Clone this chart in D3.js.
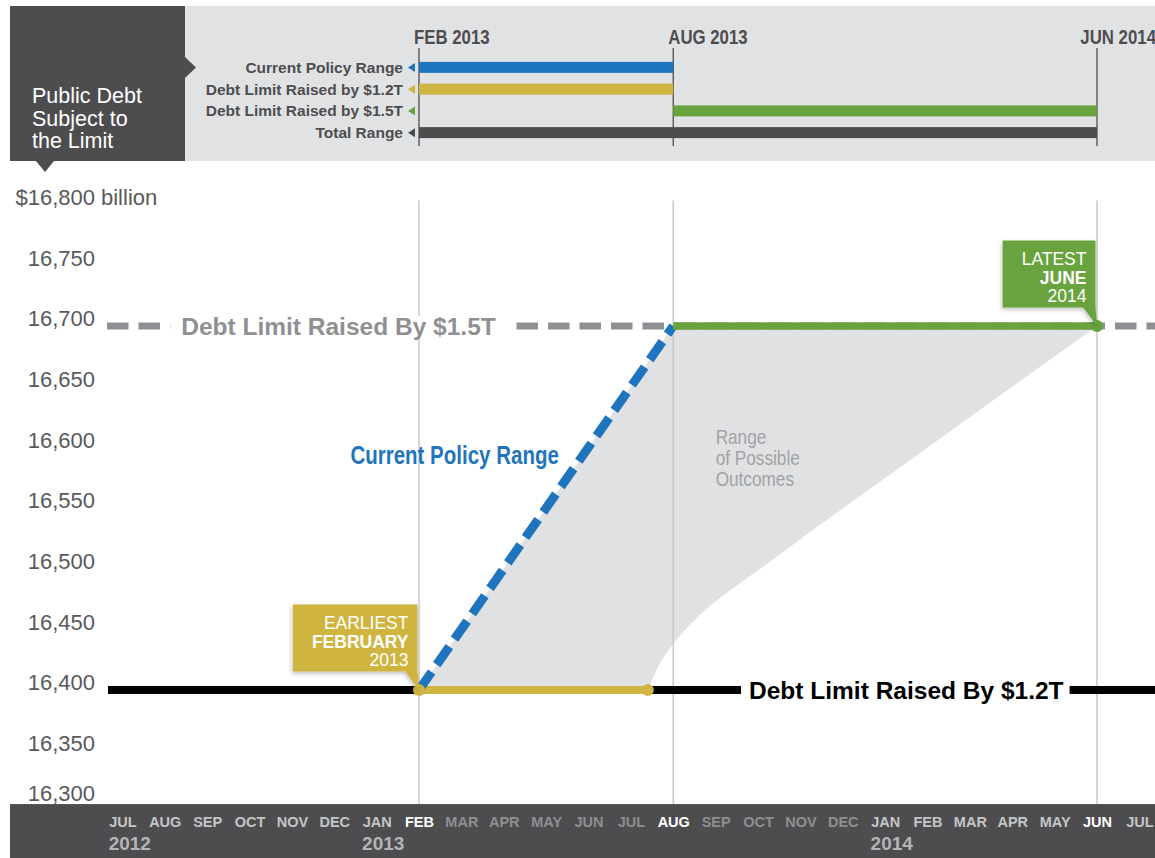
<!DOCTYPE html>
<html>
<head>
<meta charset="utf-8">
<script src="https://cdn.jsdelivr.net/npm/d3@7"></script>
<style>
  body { margin: 0; background: #fff; }
  svg { display: block; font-family: "Liberation Sans", Arial, Helvetica, sans-serif; }
</style>
</head>
<body>
<svg width="1155" height="858"></svg>
<script>
// ---- data ----
const months = ["JUL","AUG","SEP","OCT","NOV","DEC","JAN","FEB","MAR","APR","MAY","JUN",
                "JUL","AUG","SEP","OCT","NOV","DEC","JAN","FEB","MAR","APR","MAY","JUN","JUL"]; // Jul 2012 .. Jul 2014
const years = [{label: "2012", m: 0}, {label: "2013", m: 6}, {label: "2014", m: 18}];
const markers = [{label: "FEB 2013", m: 7}, {label: "AUG 2013", m: 13}, {label: "JUN 2014", m: 23}];
const yTicks = [16300, 16350, 16400, 16450, 16500, 16550, 16600, 16650, 16700, 16750, 16800];

const limit12 = 16394;   // debt limit raised by $1.2T
const limit15 = 16694;   // debt limit raised by $1.5T

const legendRows = [
  {label: "Current Policy Range",       key: "blue",  start: 7,  end: 13},
  {label: "Debt Limit Raised by $1.2T", key: "gold",  start: 7,  end: 13},
  {label: "Debt Limit Raised by $1.5T", key: "green", start: 13, end: 23},
  {label: "Total Range",                key: "dark",  start: 7,  end: 23}
];

const currentPolicy = [{m: 7, v: 16394}, {m: 13, v: 16694}];
const raised12 = [{m: 7, v: 16394}, {m: 12.4, v: 16394}];
const raised15 = [{m: 13, v: 16694}, {m: 23, v: 16694}];
// lower edge of the range of possible outcomes, from Jun 2014 back to mid 2013
const outcomeLower = [{m: 23, v: 16694}, {m: 19.17, v: 16598}, {m: 15.33, v: 16501},
                      {m: 13.63, v: 16456}, {m: 12.81, v: 16423}, {m: 12.4, v: 16394}];

// ---- setup ----
const W = 1155, H = 858;
const colors = {blue: "#1f75bd", gold: "#cfb541", green: "#69a33e", dark: "#4d4d4f"};
const PANEL = "#e1e2e4", DASHGRAY = "#8f9093";

const svg = d3.select("svg");

const x = d3.scaleLinear().domain([7, 23]).range([419, 1097]);
const y = d3.scaleLinear().domain([limit12, limit15]).range([690, 326]);
const plotLeft = 107, plotRight = W;
const bandTop = y(16300);

const defs = svg.append("defs");
defs.append("filter").attr("id", "shadow")
  .attr("x", "-20%").attr("y", "-20%").attr("width", "140%").attr("height", "150%")
  .append("feDropShadow")
  .attr("dx", -1).attr("dy", 2).attr("stdDeviation", 2)
  .attr("flood-color", "#000").attr("flood-opacity", 0.25);

// condensed text helper (horizontal squeeze)
function condensed(parent, txt, px, py, size, weight, fill, anchor) {
  const g = parent.append("g").attr("transform", `translate(${px},${py}) scale(0.82,1)`);
  const t = g.append("text").text(txt)
    .attr("font-size", size).attr("font-weight", weight)
    .attr("fill", fill).attr("text-anchor", anchor || "start");
  return {g, t, width: t.node().getComputedTextLength() * 0.82};
}

// ---- header ----
svg.append("rect").attr("x", 185).attr("y", 6).attr("width", W - 185).attr("height", 155).attr("fill", PANEL);
svg.append("rect").attr("x", 10).attr("y", 6).attr("width", 175).attr("height", 155).attr("fill", colors.dark);
svg.append("path").attr("d", "M185,57 L196,67.5 L185,78 Z").attr("fill", colors.dark);
svg.append("path").attr("d", "M36,161 L45,172 L54,161 Z").attr("fill", colors.dark);

svg.selectAll(".title")
  .data(["Public Debt", "Subject to", "the Limit"])
  .enter().append("text")
  .attr("class", "title")
  .attr("x", 32).attr("y", (d, i) => 103 + i * 22.5)
  .attr("font-size", 21.5).attr("fill", "#fff")
  .text(d => d);

// header grid + labels
svg.selectAll(".hgrid")
  .data(markers)
  .enter().append("line")
  .attr("class", "hgrid")
  .attr("x1", d => x(d.m)).attr("x2", d => x(d.m))
  .attr("y1", 48).attr("y2", 146)
  .attr("stroke", colors.dark).attr("stroke-width", 1.3);

markers.forEach(d => {
  const c = condensed(svg, d.label, 0, 44, 20.5, "bold", colors.dark);
  const sx = Math.min(x(d.m) - 5, W + 1 - c.width);
  c.g.attr("transform", `translate(${sx},44) scale(0.82,1)`);
});

const rowY = d3.scalePoint().domain(legendRows.map(d => d.label)).range([56.5, 143.5]).padding(0.5);

svg.selectAll(".hbar")
  .data(legendRows)
  .enter().append("rect")
  .attr("class", "hbar")
  .attr("x", d => x(d.start))
  .attr("width", d => x(d.end) - x(d.start))
  .attr("y", d => rowY(d.label) - 5.5)
  .attr("height", 11)
  .attr("fill", d => colors[d.key]);

svg.selectAll(".hlabel")
  .data(legendRows)
  .enter().append("text")
  .attr("class", "hlabel")
  .attr("x", 403).attr("y", d => rowY(d.label))
  .attr("dy", "0.35em")
  .attr("text-anchor", "end")
  .attr("font-size", 15.5).attr("font-weight", "bold")
  .attr("fill", colors.dark)
  .text(d => d.label);

svg.selectAll(".hmark")
  .data(legendRows)
  .enter().append("path")
  .attr("class", "hmark")
  .attr("d", d => { const c = rowY(d.label); return `M408,${c} L415,${c - 4.5} L415,${c + 4.5} Z`; })
  .attr("fill", d => colors[d.key]);

// ---- plot ----
// range of possible outcomes
const upperPath = d3.line().x(d => x(d.m)).y(d => y(d.v))([currentPolicy[0], currentPolicy[1], raised15[1]]);
const lowerPath = d3.line().x(d => x(d.m)).y(d => y(d.v)).curve(d3.curveMonotoneY)(outcomeLower);
svg.append("path")
  .attr("d", upperPath + "L" + lowerPath.slice(1) + "Z")
  .attr("fill", "#e0e1e3");

// vertical grid
svg.selectAll(".vgrid")
  .data(markers)
  .enter().append("line")
  .attr("class", "vgrid")
  .attr("x1", d => x(d.m)).attr("x2", d => x(d.m))
  .attr("y1", y(16800) + 3).attr("y2", bandTop)
  .attr("stroke", "#c8c8ca").attr("stroke-width", 1.5);

// $1.5T dashed limit
svg.append("line")
  .attr("x1", plotLeft).attr("x2", plotRight)
  .attr("y1", y(limit15)).attr("y2", y(limit15))
  .attr("stroke", DASHGRAY).attr("stroke-width", 7)
  .attr("stroke-dasharray", "21.5,10");

function limitLabel(txt, m, v, fill, padL, padR) {
  const t = svg.append("text").text(txt)
    .attr("x", x(m)).attr("y", y(v)).attr("dy", "0.36em")
    .attr("text-anchor", "middle")
    .attr("font-size", 24.5).attr("font-weight", "bold")
    .attr("fill", fill);
  const w = t.node().getComputedTextLength();
  svg.insert("rect", () => t.node())
    .attr("x", x(m) - w / 2 - padL).attr("width", w + padL + padR)
    .attr("y", y(v) - 10).attr("height", 20)
    .attr("fill", "#fff");
}
limitLabel("Debt Limit Raised By $1.5T", 5.1, limit15, DASHGRAY, 11, 18);

// $1.2T solid limit
svg.append("line")
  .attr("x1", plotLeft + 1).attr("x2", plotRight)
  .attr("y1", y(limit12)).attr("y2", y(limit12))
  .attr("stroke", "#000").attr("stroke-width", 8);
limitLabel("Debt Limit Raised By $1.2T", 18.5, limit12, "#000", 8, 6);

const line = d3.line().x(d => x(d.m)).y(d => y(d.v));

svg.append("path").attr("d", line(raised12))
  .attr("stroke", colors.gold).attr("stroke-width", 8).attr("fill", "none");
svg.append("path").attr("d", line(currentPolicy))
  .attr("stroke", colors.blue).attr("stroke-width", 9).attr("fill", "none")
  .attr("stroke-dasharray", "22,9");
svg.append("path").attr("d", line(raised15))
  .attr("stroke", colors.green).attr("stroke-width", 7.5).attr("fill", "none");

svg.selectAll(".golddot")
  .data(raised12)
  .enter().append("circle")
  .attr("cx", d => x(d.m)).attr("cy", d => y(d.v)).attr("r", 6)
  .attr("fill", colors.gold);
svg.append("circle")
  .attr("cx", x(raised15[1].m)).attr("cy", y(raised15[1].v)).attr("r", 6)
  .attr("fill", colors.green);

// callouts
function callout(pt, lines, fill) {
  const px = x(pt.m), py = y(pt.v);
  const g = svg.append("g").attr("filter", "url(#shadow)");
  const right = px - 1.5, bottom = py - 18.5, h = 67;
  const box = g.append("rect").attr("fill", fill);
  g.append("path")
    .attr("d", `M${right - 13},${bottom - 1} L${right},${bottom - 1} L${px},${py} Z`)
    .attr("fill", fill);
  let maxW = 0;
  lines.forEach((ln, i) => {
    const t = svg.append("text").text(ln.text)
      .attr("x", right - 9).attr("y", bottom - h + 24.5 + i * 18.5)
      .attr("text-anchor", "end")
      .attr("font-size", 17.5).attr("font-weight", ln.bold ? "bold" : "normal")
      .attr("fill", "#fff");
    maxW = Math.max(maxW, t.node().getComputedTextLength());
  });
  const w = maxW + 28;
  box.attr("x", right - w).attr("y", bottom - h).attr("width", w).attr("height", h);
}
callout(raised12[0], [{text: "EARLIEST"}, {text: "FEBRUARY", bold: true}, {text: "2013"}], colors.gold);
callout(raised15[1], [{text: "LATEST"}, {text: "JUNE", bold: true}, {text: "2014"}], colors.green);

// annotations
condensed(svg, "Current Policy Range", x(10.3), y(16580), 25, "bold", colors.blue, "end");
["Range", "of Possible", "Outcomes"].forEach((s, i) => {
  condensed(svg, s, x(14), y(16597) + i * 21, 21, "normal", "#a2a3a5");
});

// ---- y axis ----
const yAxis = svg.append("g")
  .attr("transform", "translate(95,0)")
  .call(d3.axisLeft(y).tickValues(yTicks).tickSize(0).tickPadding(0).tickFormat(d3.format(",")));
yAxis.select(".domain").remove();
yAxis.selectAll(".tick")
  .attr("transform", d => `translate(0,${Math.min(y(d), bandTop - 11)})`);
yAxis.selectAll(".tick text")
  .attr("font-family", "Liberation Sans, Arial, sans-serif")
  .attr("font-size", 22).attr("fill", "#58595b").attr("dy", "0.35em");
yAxis.selectAll(".tick").filter(d => d === 16800).each(function () {
  const tick = d3.select(this);
  const w = tick.select("text").node().getComputedTextLength();
  tick.append("text").text("$").attr("x", -w).attr("dy", "0.35em")
    .attr("text-anchor", "end").attr("font-size", 22).attr("fill", "#58595b")
    .attr("font-family", "Liberation Sans, Arial, sans-serif");
  tick.append("text").text("billion").attr("x", 6).attr("dy", "0.35em")
    .attr("text-anchor", "start").attr("font-size", 22).attr("fill", "#58595b")
    .attr("font-family", "Liberation Sans, Arial, sans-serif");
});

// ---- x axis band ----
svg.append("rect").attr("x", 10).attr("y", bandTop).attr("width", W - 10).attr("height", H - bandTop)
  .attr("fill", colors.dark);

const markerMonths = markers.map(d => d.m);
function monthColor(m) {
  if (markerMonths.includes(m)) return "#fff";
  if (m > 7 && m < 18) return "#8e8f91";   // rest of 2013
  return "#c4c5c7";
}

const xAxis = svg.append("g")
  .attr("transform", "translate(0,817)")
  .call(d3.axisBottom(x).tickValues(d3.range(months.length)).tickSize(0).tickPadding(0)
    .tickFormat(i => months[i]));
xAxis.select(".domain").remove();
xAxis.selectAll(".tick text")
  .attr("font-family", "Liberation Sans, Arial, sans-serif")
  .attr("font-size", 14.5).attr("font-weight", "bold")
  .attr("fill", d => monthColor(d));

years.forEach(yr => {
  const txt = xAxis.selectAll(".tick").filter(d => d === yr.m).select("text").node();
  const w = txt.getComputedTextLength();
  svg.append("text").text(yr.label)
    .attr("x", x(yr.m) - w / 2).attr("y", 850)
    .attr("font-size", 19).attr("font-weight", "bold")
    .attr("fill", "#b3b4b6");
});
</script>
</body>
</html>
